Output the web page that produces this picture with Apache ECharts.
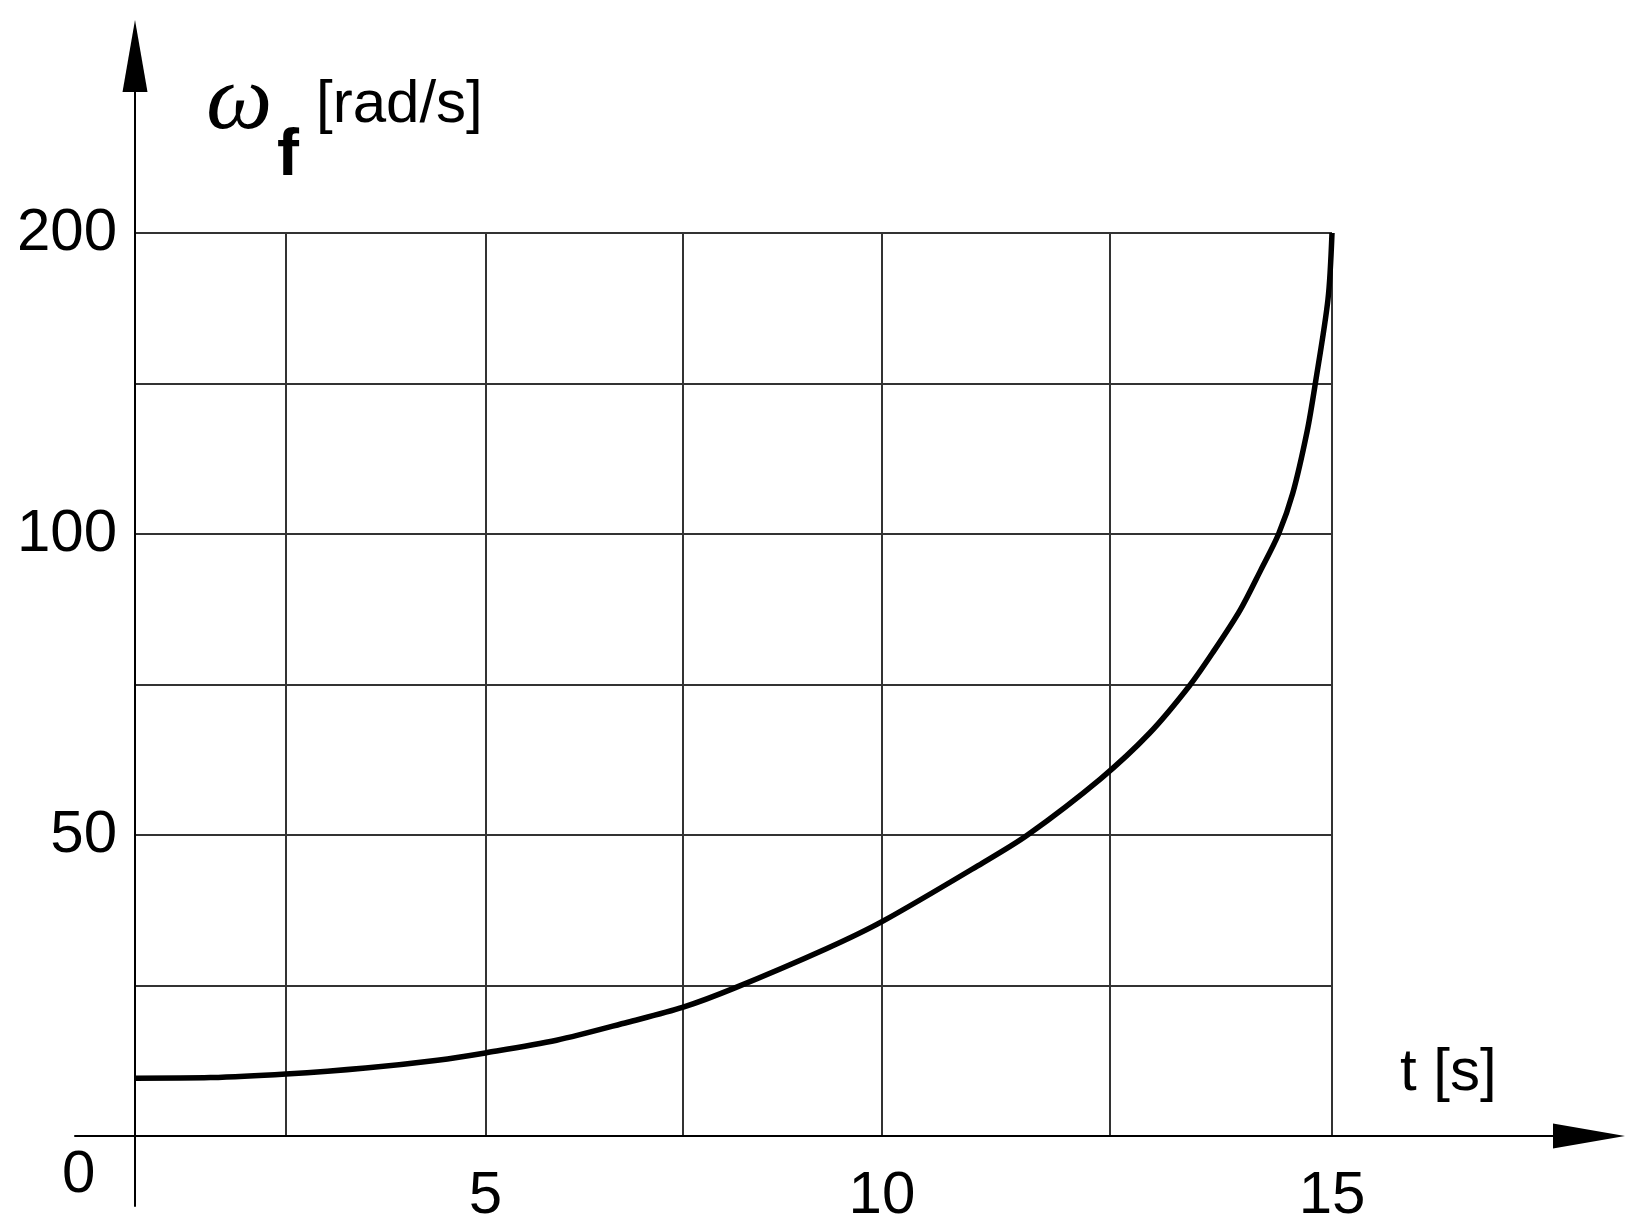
<!DOCTYPE html>
<html>
<head>
<meta charset="utf-8">
<script src="https://cdn.jsdelivr.net/npm/echarts@6/dist/echarts.min.js"></script>
<style>
html, body { margin: 0; padding: 0; background: #fff; }
#chart { width: 1644px; height: 1230px; }
</style>
</head>
<body>
<div id="chart"></div>
<script>
// time [s] and flywheel speed [rad/s]
const tData = [0, 1.25, 2.5, 3.5, 4.4, 5, 5.9, 6.8, 7.5, 8.15, 9.3, 10, 11.1, 11.6, 12.4, 12.95, 13.4, 13.67, 13.97, 14.2, 14.4, 14.56, 14.72, 14.81, 14.955, 15];
const omegaData = [9.6, 9.7, 10.3, 11.3, 12.6, 13.8, 15.9, 18.9, 21.4, 24.6, 31.1, 35.6, 45.3, 50, 59.3, 66.9, 74.8, 80.5, 87.4, 94, 100, 113.6, 134, 149.5, 178, 200];

// printed time axis: gridline times and where they sit along the 0..15 span
const tGrid = [0, 2.5, 5, 7.5, 10, 12.5, 15];
const tGridPos = [0, 1.89, 4.39, 6.87, 9.36, 12.21, 15];
const tLabels = [5, 10, 15];

// printed speed axis: labelled values and the grid row they sit on
const omegaTicks = [0, 50, 100, 200];
const omegaRows = [0, 2, 4, 6];

function piecewise(v, from, to) {
    for (let i = 1; i < from.length; i++) {
        if (v <= from[i] || i === from.length - 1) {
            const k = (v - from[i - 1]) / (from[i] - from[i - 1]);
            return to[i - 1] + k * (to[i] - to[i - 1]);
        }
    }
}
const toX = t => piecewise(t, tGrid, tGridPos);
const toY = w => piecewise(w, omegaTicks, omegaRows);

const font = "'Liberation Sans', Arial, sans-serif";
const ink = '#000';
const gridInk = '#333';

const arrowLine = {
    show: true,
    onZero: false,
    symbol: ['none', 'triangle'],
    symbolSize: [25, 72],
    lineStyle: { color: ink, width: 2 }
};

function label(text, x, y, fontStr) {
    return {
        type: 'text', x: x, y: y,
        style: {
            text: text, font: fontStr, fill: ink,
            align: 'left', verticalAlign: 'middle',
            textAlign: 'left', textVerticalAlign: 'middle'
        }
    };
}

const chart = echarts.init(document.getElementById('chart'));

chart.setOption({
    animation: false,
    backgroundColor: '#fff',
    grid: [
        { left: 135, top: 233, right: 312, bottom: 94 },  // plot box
        { left: 75, top: 56, right: 55, bottom: 94 },     // t axis line
        { left: 135, top: 56, right: 55, bottom: 24 }     // omega axis line
    ],
    xAxis: [
        {
            gridIndex: 0, type: 'value', min: 0, max: 15,
            axisLine: { show: false },
            axisTick: { show: false, customValues: tGrid.map(toX) },
            splitLine: { show: true, lineStyle: { color: gridInk, width: 2 } },
            axisLabel: {
                customValues: tLabels.map(toX),
                formatter: v => {
                    const t = tLabels.find(x => Math.abs(toX(x) - v) < 1e-6);
                    return t === undefined ? '' : String(t);
                },
                fontSize: 60, fontFamily: font, color: ink, margin: 30
            }
        },
        {
            gridIndex: 1, type: 'value', min: 0, max: 1,
            axisLine: arrowLine,
            axisTick: { show: false }, axisLabel: { show: false }, splitLine: { show: false }
        },
        { gridIndex: 2, type: 'value', min: 0, max: 1, show: false }
    ],
    yAxis: [
        {
            gridIndex: 0, type: 'value', min: 0, max: 6, interval: 1,
            axisLine: { show: false },
            axisTick: { show: false },
            splitLine: { show: true, lineStyle: { color: gridInk, width: 2 } },
            axisLabel: {
                customValues: omegaRows.slice(1),
                formatter: v => String(omegaTicks[omegaRows.indexOf(v)]),
                fontSize: 60, fontFamily: font, color: ink, margin: 18
            }
        },
        { gridIndex: 1, type: 'value', min: 0, max: 1, show: false },
        {
            gridIndex: 2, type: 'value', min: 0, max: 1,
            axisLine: arrowLine,
            axisTick: { show: false }, axisLabel: { show: false }, splitLine: { show: false }
        }
    ],
    graphic: [
        label('0', 62, 1175, '60px ' + font),
        label('t [s]', 1400, 1073, '60px ' + font),
        label('ω', 206, 103, "italic 94px 'Liberation Serif', serif"),
        label('f', 277, 157, 'bold 66px ' + font),
        label('[rad/s]', 316, 105, '60px ' + font)
    ],
    series: [
        {
            type: 'line',
            xAxisIndex: 0, yAxisIndex: 0,
            data: tData.map((t, i) => [toX(t), toY(omegaData[i])]),
            showSymbol: false,
            smooth: 0.3,
            lineStyle: { color: ink, width: 5.5 },
            z: 5
        }
    ]
});
</script>
</body>
</html>
